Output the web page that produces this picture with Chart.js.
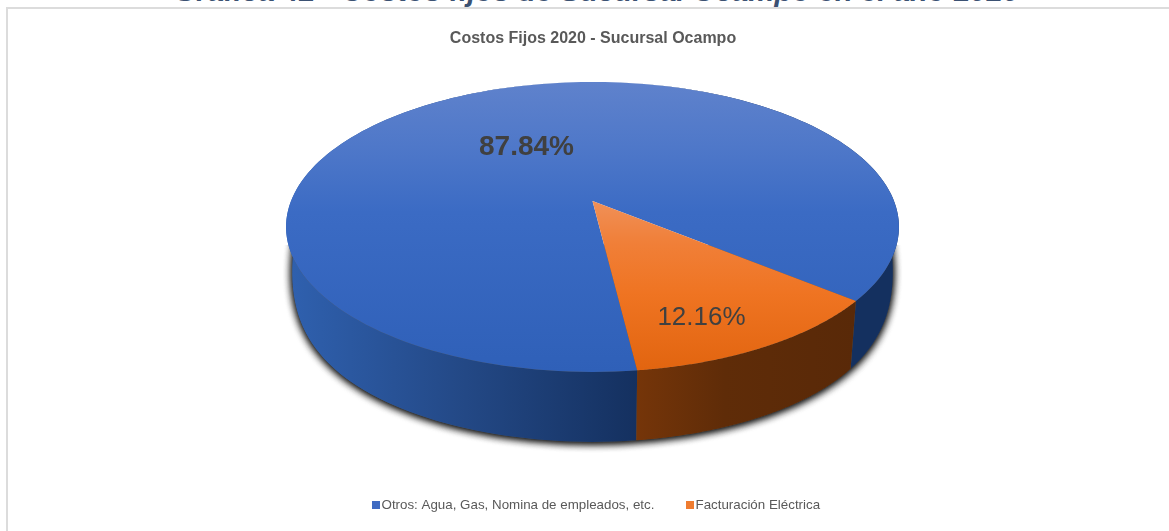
<!DOCTYPE html>
<html>
<head>
<meta charset="utf-8">
<style>
  html, body { margin: 0; padding: 0; background: #fff; overflow: hidden; width: 1169px; height: 531px; }
  #frame { position: absolute; left: 6px; top: 7px; width: 1180px; height: 540px; border: 2px solid #dcdcdc; }
  #caption { position: absolute; left: 0; top: -26px; width: 1193px; text-align: center; white-space: nowrap;
             font: italic bold 29.4px "Liberation Sans", Arial, sans-serif; color: #3b5172; }
  canvas { position: absolute; left: 0; top: 0; }
</style>
</head>
<body>
<div id="caption">Gráfica 42 - Costos fijos de Sucursal Ocampo en el año 2020</div>
<div id="frame"></div>
<canvas id="pie" width="1169" height="531"></canvas>
<script src="https://cdn.jsdelivr.net/npm/chart.js@4/dist/chart.umd.js"></script>
<script>
const categories = ['Otros: Agua, Gas, Nomina de empleados, etc.', 'Facturación Eléctrica'];
const percents = [87.84, 12.16];
const legendColors = ['#3f6bc2', '#ef7c30'];

// disc projection: a circle seen in perspective, with a solid rim below it
const cx = 592.5, cy = 201;
const spreadX = 301.5, spreadY = 140.3, persp = 0.179;
const rimScale = 0.98, rimDepth = 70;

function topPoint(theta) {
  const u = Math.sin(theta), v = -Math.cos(theta);
  const w = 1 - persp * v;
  return [cx + spreadX * u / w, cy + spreadY * v / w];
}

// the rim looks deepest at the front and shortens toward the sides
function basePoint(theta) {
  const v = -Math.cos(theta);
  const p = topPoint(theta);
  const drop = Math.max(0, rimDepth - 45 * Math.pow(1 - v, 3));
  return [cx + (p[0] - cx) * rimScale, p[1] + drop];
}

function edgePoints(a0, a1, fn) {
  const pts = [], steps = 180;
  for (let i = 0; i <= steps; i++) {
    pts.push(fn(a0 + (a1 - a0) * i / steps));
  }
  return pts;
}

function trace(ctx, pts) {
  pts.forEach(p => ctx.lineTo(p[0], p[1]));
}

function linear(ctx, x0, y0, x1, y1, stops) {
  const g = ctx.createLinearGradient(x0, y0, x1, y1);
  stops.forEach(s => g.addColorStop(s[0], s[1]));
  return g;
}

const disc3d = {
  id: 'disc3d',
  // arcs are laid out by the pie controller, only their painting is replaced
  beforeDatasetsDraw(chart) {
    const ctx = chart.ctx;
    const arcs = chart.getDatasetMeta(0).data;
    const faceFill = [
      linear(ctx, 0, 82, 0, 372, [[0, '#5f82cc'], [0.22, '#4f78c9'], [0.45, '#3b6bc4'], [1, '#2f60b8']]),
      linear(ctx, 0, 201, 0, 369, [[0, '#f09058'], [0.25, '#f07f38'], [0.55, '#ef7422'], [1, '#e26510']])
    ];
    const wallFill = [
      linear(ctx, 292, 0, 640, 0, [[0, '#2f60ae'], [0.5, '#234885'], [1, '#14305f']]),
      linear(ctx, 637, 0, 856, 0, [[0, '#753509'], [0.4, '#5f2c08'], [1, '#592908']])
    ];

    ctx.save();
    // soft shadow under the base, lower part only so the back edge stays clean
    ctx.save();
    ctx.beginPath();
    ctx.rect(0, 245, chart.width, chart.height - 245);
    ctx.clip();
    ctx.shadowColor = 'rgba(0,0,0,0.95)';
    ctx.shadowBlur = 8;
    ctx.shadowOffsetY = 1;
    ctx.fillStyle = '#555';
    for (let n = 0; n < 2; n++) {
      ctx.beginPath();
      trace(ctx, edgePoints(0, Math.PI * 2, basePoint));
      ctx.closePath();
      ctx.fill();
    }
    ctx.restore();

    // rim walls, the top face covers whatever faces away
    arcs.forEach((arc, i) => {
      const a0 = arc.startAngle + Math.PI / 2, a1 = arc.endAngle + Math.PI / 2;
      ctx.beginPath();
      trace(ctx, edgePoints(a0, a1, topPoint).concat(edgePoints(a0, a1, basePoint).reverse()));
      ctx.closePath();
      ctx.fillStyle = wallFill[i];
      ctx.fill();
    });

    // top faces
    arcs.forEach((arc, i) => {
      const a0 = arc.startAngle + Math.PI / 2, a1 = arc.endAngle + Math.PI / 2;
      ctx.beginPath();
      ctx.moveTo(cx, cy);
      trace(ctx, edgePoints(a0, a1, topPoint));
      ctx.closePath();
      ctx.fillStyle = faceFill[i];
      ctx.fill();
    });
    ctx.restore();
    return false;
  },
  afterDraw(chart) {
    const ctx = chart.ctx;
    ctx.save();
    ctx.textBaseline = 'middle';
    ctx.textAlign = 'center';
    ctx.fillStyle = '#404040';
    ctx.font = 'bold 28px "Liberation Sans", Arial, sans-serif';
    ctx.fillText(percents[0].toFixed(2) + '%', 526.5, 147.5);
    ctx.font = '26px "Liberation Sans", Arial, sans-serif';
    ctx.fillText(percents[1].toFixed(2) + '%', 701.5, 317.5);

    // legend row
    ctx.textAlign = 'left';
    ctx.font = '13.35px "Liberation Sans", Arial, sans-serif';
    const legendX = [372, 686];
    categories.forEach((name, i) => {
      ctx.fillStyle = legendColors[i];
      ctx.fillRect(legendX[i], 501, 8, 8);
      ctx.fillStyle = '#595959';
      ctx.fillText(name, legendX[i] + 9.5, 505.5);
    });
    ctx.restore();
  }
};

new Chart(document.getElementById('pie').getContext('2d'), {
  type: 'pie',
  data: {
    labels: categories,
    datasets: [{ data: percents, backgroundColor: legendColors, borderWidth: 0 }]
  },
  options: {
    responsive: false,
    animation: false,
    rotation: 173,
    layout: { padding: { left: 17, top: 29 } },
    plugins: {
      legend: { display: false },
      tooltip: { enabled: false },
      title: {
        display: true,
        text: 'Costos Fijos 2020 - Sucursal Ocampo',
        color: '#595959',
        font: { family: '"Liberation Sans", Arial, sans-serif', size: 16, weight: 'bold' },
        padding: 0
      }
    }
  },
  plugins: [disc3d]
});
</script>
</body>
</html>
